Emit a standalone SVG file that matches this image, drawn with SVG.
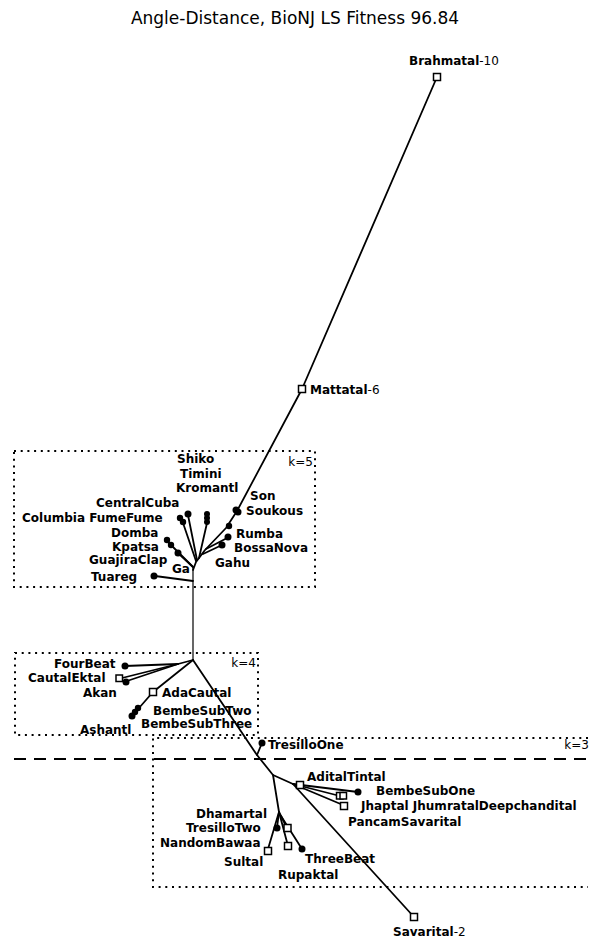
<svg xmlns="http://www.w3.org/2000/svg" width="589" height="938" viewBox="0 0 589 938">
<style>
  .lbl { font-family: "DejaVu Sans", "Liberation Sans", sans-serif; font-weight: bold; font-size: 12px; fill: #000; }
  .reg { font-family: "DejaVu Sans", "Liberation Sans", sans-serif; font-weight: normal; font-size: 12px; fill: #000; }
  .title { font-family: "DejaVu Sans", "Liberation Sans", sans-serif; font-size: 17px; fill: #000; }
  .edge { fill: none; stroke: #000; stroke-width: 1.8; stroke-linecap: round; stroke-linejoin: round; }
  .thin { fill: none; stroke: #000; stroke-width: 1.2; }
  .dot { fill: #000; }
  .sq { fill: #fff; stroke: #000; stroke-width: 1.5; }
  .box { fill: none; stroke: #000; stroke-width: 2; stroke-dasharray: 2 4.7; }
  .dash { fill: none; stroke: #000; stroke-width: 2; stroke-dasharray: 12 8; }
</style>
<rect width="589" height="938" fill="#fff"/>
<text class="title" x="295" y="24" text-anchor="middle">Angle-Distance, BioNJ LS Fitness 96.84</text>

<g id="clusters">
  <rect class="box" x="14" y="451" width="301" height="136"/>
  <text class="reg" x="313" y="466" text-anchor="end">k=5</text>
  <rect class="box" x="15" y="653" width="243" height="82"/>
  <text class="reg" x="256" y="667" text-anchor="end">k=4</text>
  <path class="box" d="M588,738 L153,738 L153,887 L588,887"/>
  <text class="reg" x="589" y="749" text-anchor="end">k=3</text>
  <line class="dash" x1="14" y1="759" x2="589" y2="759"/>
</g>

<g id="connectors">
  <path class="edge" d="M437,77 L302,389 L237,511 L226,528 L205,550 L196,562 L193,570"/>
  <path class="thin" d="M193,568 L193,660"/>
  <path class="edge" d="M229,537 L206,549"/>
  <path class="edge" d="M222,545 L203,554"/>
  <path class="edge" d="M207,523 L199,558"/>
  <path class="edge" d="M188,515 L197,560"/>
  <path class="edge" d="M182,520 L196,561"/>
  <path class="edge" d="M168,542 L193,567"/>
  <path class="edge" d="M178,553 L193,567"/>
  <path class="edge" d="M155,576 L193,581"/>
  <path class="edge" d="M193,660 L178,664 L125,666"/>
  <path class="edge" d="M178,664 L122,678"/>
  <path class="edge" d="M178,664 L127,681"/>
  <path class="edge" d="M193,660 L153,692 L132,716"/>
  <path class="edge" d="M193,660 L257,755 L273,775 L293,784 L414,917"/>
  <path class="edge" d="M262,743 L257,755"/>
  <path class="edge" d="M293,784 L358,792"/>
  <path class="edge" d="M293,784 L340,796"/>
  <path class="edge" d="M293,784 L343,805"/>
  <path class="edge" d="M273,775 L279,812 L268,849"/>
  <path class="edge" d="M279,812 L277,828"/>
  <path class="edge" d="M279,812 L287,828"/>
  <path class="edge" d="M279,812 L288,846"/>
  <path class="edge" d="M281,816 L302,849"/>
</g>

<g id="Brahmatal"><rect class="sq" x="433.5" y="73.5" width="7" height="7"/><text class="lbl" x="409" y="65">Brahmatal<tspan class="reg">-10</tspan></text></g>
<g id="Mattatal"><rect class="sq" x="298.5" y="385.5" width="7" height="7"/><text class="lbl" x="310" y="394">Mattatal<tspan class="reg">-6</tspan></text></g>
<g id="Savarital"><rect class="sq" x="410.5" y="913.5" width="7" height="7"/><text class="lbl" x="393" y="936">Savarital<tspan class="reg">-2</tspan></text></g>

<g id="k5-nodes">
  <circle class="dot" cx="236" cy="510" r="3.5"/><circle class="dot" cx="238" cy="512" r="3.5"/>
  <circle class="dot" cx="229" cy="526" r="3.2"/>
  <circle class="dot" cx="228" cy="537" r="3.5"/>
  <circle class="dot" cx="222" cy="545" r="3.5"/>
  <circle class="dot" cx="207" cy="514" r="3"/><circle class="dot" cx="207" cy="518" r="3"/><circle class="dot" cx="207" cy="522" r="3"/>
  <circle class="dot" cx="188" cy="514" r="3.5"/>
  <circle class="dot" cx="180" cy="518" r="3.2"/><circle class="dot" cx="183" cy="522" r="3.2"/>
  <circle class="dot" cx="167" cy="540" r="3.2"/><circle class="dot" cx="171" cy="545" r="3.2"/>
  <circle class="dot" cx="178" cy="553" r="3.5"/>
  <circle class="dot" cx="154" cy="576" r="3.5"/>
  <text class="lbl" x="177" y="463">Shiko</text>
  <text class="lbl" x="180" y="478">Timini</text>
  <text class="lbl" x="176" y="492">Kromantl</text>
  <text class="lbl" x="250" y="500">Son</text>
  <text class="lbl" x="246" y="515">Soukous</text>
  <text class="lbl" x="96" y="507">CentralCuba</text>
  <text class="lbl" x="22" y="522">Columbia FumeFume</text>
  <text class="lbl" x="111" y="537">Domba</text>
  <text class="lbl" x="112" y="550.5">Kpatsa</text>
  <text class="lbl" x="89" y="564">GuajiraClap</text>
  <text class="lbl" x="172" y="573">Ga</text>
  <text class="lbl" x="91" y="581">Tuareg</text>
  <text class="lbl" x="236" y="538">Rumba</text>
  <text class="lbl" x="234" y="552">BossaNova</text>
  <text class="lbl" x="215" y="567">Gahu</text>
</g>

<g id="k4-nodes">
  <circle class="dot" cx="125" cy="666" r="3.5"/>
  <rect class="sq" x="116" y="675" width="6.5" height="6.5"/>
  <circle class="dot" cx="126" cy="682" r="3.5"/>
  <rect class="sq" x="149.5" y="688.5" width="7" height="7"/>
  <circle class="dot" cx="138" cy="708" r="3.2"/><circle class="dot" cx="135" cy="712" r="3.2"/>
  <circle class="dot" cx="132" cy="716" r="3.5"/>
  <text class="lbl" x="54" y="668">FourBeat</text>
  <text class="lbl" x="28" y="682">CautalEktal</text>
  <text class="lbl" x="83" y="697">Akan</text>
  <text class="lbl" x="162" y="697">AdaCautal</text>
  <text class="lbl" x="153" y="715">BembeSubTwo</text>
  <text class="lbl" x="141" y="728">BembeSubThree</text>
  <text class="lbl" x="80" y="734">Ashantl</text>
</g>

<g id="k3-nodes">
  <circle class="dot" cx="262" cy="743" r="3.5"/>
  <rect class="sq" x="296.5" y="781.5" width="7" height="7"/>
  <circle class="dot" cx="358" cy="792" r="3.5"/>
  <rect class="sq" x="336.5" y="792.5" width="6.5" height="6.5"/>
  <rect class="sq" x="340" y="792.5" width="6.5" height="6.5"/>
  <rect class="sq" x="340.5" y="802.5" width="7" height="7"/>
  <circle class="dot" cx="277" cy="828" r="3.5"/>
  <rect class="sq" x="284" y="824.5" width="7" height="7"/>
  <rect class="sq" x="284.5" y="842.5" width="7" height="7"/>
  <rect class="sq" x="264.5" y="847.5" width="7" height="7"/>
  <circle class="dot" cx="302" cy="849" r="3.5"/>
  <text class="lbl" x="268" y="749">TresilloOne</text>
  <text class="lbl" x="307" y="781">AditalTintal</text>
  <text class="lbl" x="376" y="795">BembeSubOne</text>
  <text class="lbl" x="361" y="810">Jhaptal JhumratalDeepchandital</text>
  <text class="lbl" x="348" y="826">PancamSavarital</text>
  <text class="lbl" x="196" y="818">Dhamartal</text>
  <text class="lbl" x="186" y="832">TresilloTwo</text>
  <text class="lbl" x="160" y="847">NandomBawaa</text>
  <text class="lbl" x="224" y="866">Sultal</text>
  <text class="lbl" x="305" y="863">ThreeBeat</text>
  <text class="lbl" x="278" y="879">Rupaktal</text>
</g>
</svg>
